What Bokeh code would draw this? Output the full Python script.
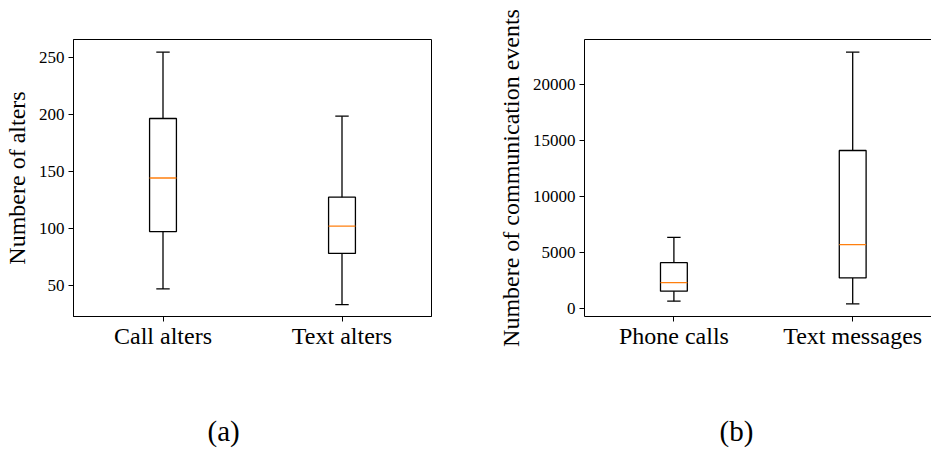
from bokeh.plotting import figure
from bokeh.layouts import row
from bokeh.models import FixedTicker, Range1d, LinearAxis, Title
from bokeh.embed import file_html
from bokeh.resources import INLINE

# ---- data ----
alter_labels = ["Call alters", "Text alters"]
alter_low = [46.7, 33.0]
alter_q1 = [97.0, 77.8]
alter_med = [144.0, 101.8]
alter_q3 = [196.2, 127.2]
alter_high = [254.4, 198.2]
alter_ticks = [50, 100, 150, 200, 250]

event_labels = ["Phone calls", "Text messages"]
event_low = [625, 384]
event_q1 = [1518, 2705]
event_med = [2286, 5679]
event_q3 = [4071, 14107]
event_high = [6339, 22911]
event_ticks = [0, 5000, 10000, 15000, 20000]

FONT = "Liberation Serif"
ORANGE = "#ff7f0e"
LW = 1.3
BOXW = 0.15


def style(p, ylabel, yticks, labels):
    p.xaxis.ticker = FixedTicker(ticks=[1, 2])
    p.xaxis.major_label_overrides = {1: labels[0], 2: labels[1]}
    p.yaxis.ticker = FixedTicker(ticks=yticks)
    p.xgrid.grid_line_color = None
    p.ygrid.grid_line_color = None
    for ax in (p.xaxis[0], p.yaxis[0]):
        ax.major_tick_out = 5
        ax.major_tick_in = 0
        ax.minor_tick_out = 0
        ax.minor_tick_in = 0
        ax.axis_line_color = "black"
        ax.major_tick_line_color = "black"
        ax.major_label_text_font = FONT
        ax.major_label_text_color = "black"
        ax.axis_label_text_font = FONT
        ax.axis_label_text_font_style = "normal"
        ax.axis_label_text_color = "black"
    p.xaxis.major_label_text_font_size = "24px"
    p.xaxis.major_label_standoff = 1
    p.yaxis.major_label_text_font_size = "17px"
    p.yaxis.major_label_standoff = 4
    p.yaxis.axis_label = ylabel
    p.yaxis.axis_label_text_font_size = "24px"
    p.yaxis.axis_label_standoff = 6


def boxes(p, low, q1, med, q3, high):
    xs = [1, 2]
    p.vbar(x=xs, width=BOXW, bottom=q1, top=q3, fill_color="white",
           line_color="black", line_width=LW)
    p.segment(x0=[x - BOXW / 2 for x in xs], x1=[x + BOXW / 2 for x in xs],
              y0=med, y1=med, line_color=ORANGE, line_width=LW)
    p.segment(x0=xs, x1=xs, y0=q3, y1=high, line_color="black", line_width=LW)
    p.segment(x0=xs, x1=xs, y0=q1, y1=low, line_color="black", line_width=LW)
    p.segment(x0=[x - BOXW / 4 for x in xs], x1=[x + BOXW / 4 for x in xs],
              y0=high, y1=high, line_color="black", line_width=LW)
    p.segment(x0=[x - BOXW / 4 for x in xs], x1=[x + BOXW / 4 for x in xs],
              y0=low, y1=low, line_color="black", line_width=LW)


def caption(p, text, offset):
    t = Title(text=text, align="left", offset=offset, standoff=123,
              text_font=FONT, text_font_size="29px", text_font_style="normal",
              text_color="black")
    p.add_layout(t, "below")


# ---- left panel ----
p1 = figure(width=480, height=450, output_backend="svg", toolbar_location=None,
            x_range=Range1d(0.5, 2.5), y_range=Range1d(22.5, 265.5),
            min_border_left=71, min_border_right=51, min_border_top=39,
            min_border_bottom=134, frame_width=358, frame_height=277)
p1.outline_line_color = "black"
p1.outline_line_width = 1
p1.outline_line_alpha = 1
style(p1, "Numbere of alters", alter_ticks, alter_labels)
boxes(p1, alter_low, alter_q1, alter_med, alter_q3, alter_high)
caption(p1, "(a)", 134)

# ---- right panel ----
p2 = figure(width=451, height=450, output_backend="svg", toolbar_location=None,
            x_range=Range1d(0.5, 0.5 + 349 / 178.8), y_range=Range1d(-750, 24045),
            min_border_left=102, min_border_right=0, min_border_top=39,
            min_border_bottom=134, frame_width=349, frame_height=277)
p2.outline_line_color = None
style(p2, "Numbere of communication events", event_ticks, event_labels)
top_axis = LinearAxis(major_tick_out=0, major_tick_in=0, minor_tick_out=0,
                      minor_tick_in=0, major_label_text_font_size="0px",
                      axis_line_color="black")
top_axis.major_label_text_alpha = 0
p2.add_layout(top_axis, "above")
boxes(p2, event_low, event_q1, event_med, event_q3, event_high)
caption(p2, "(b)", 135)

layout = row(p1, p2)
open("out.html", "w").write(file_html(layout, INLINE))
